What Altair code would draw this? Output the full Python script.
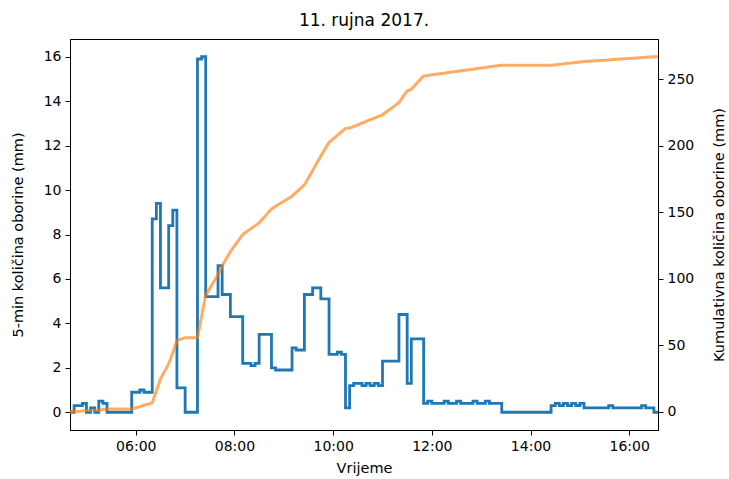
import altair as alt
import pandas as pd

title_text = "11. rujna 2017."
y_left_title = "5-min količina oborine (mm)"
y_right_title = "Kumulativna količina oborine (mm)"
x_title = "Vrijeme"

start_minute = 4 * 60 + 40   # 04:40
end_minute = 16 * 60 + 35    # 16:35
step_minutes = 5

# 5-min rainfall (mm); each value belongs to the 5-min interval ending at its timestamp
rain_5min = [
    0.0, 0.0,
    0.3, 0.3, 0.4, 0.0, 0.2, 0.0, 0.5, 0.4,
    0.0, 0.0, 0.0, 0.0, 0.0, 0.0,
    0.9, 0.9, 1.0, 0.9, 0.9,
    8.7, 9.4, 5.6, 5.6, 8.4, 9.1, 1.1, 1.1, 0.0, 0.0, 0.0,
    15.9, 16.0, 5.2, 5.2, 5.2, 6.6, 5.3, 5.3, 4.3, 4.3, 4.3,
    2.2, 2.2, 2.1, 2.2, 3.5, 3.5, 3.5, 2.0, 1.9, 1.9, 1.9, 1.9,
    2.9, 2.8, 2.8, 5.3, 5.3, 5.6, 5.6, 5.1, 5.1, 2.6, 2.6, 2.7, 2.6, 0.2,
    1.2, 1.3, 1.3, 1.2, 1.3, 1.2, 1.3, 1.2,
    2.3, 2.3, 2.3, 2.3, 4.4, 4.4, 1.3, 3.3, 3.3, 3.3,
    0.4, 0.5, 0.4, 0.4, 0.4, 0.5, 0.4, 0.4, 0.5, 0.4, 0.4, 0.4, 0.5, 0.4, 0.4, 0.5, 0.4, 0.4, 0.4,
    0.0, 0.0, 0.0, 0.0, 0.0, 0.0, 0.0, 0.0, 0.0, 0.0, 0.0, 0.0,
    0.3, 0.4, 0.3, 0.4, 0.3, 0.4, 0.3, 0.4,
    0.2, 0.2, 0.2, 0.2, 0.2, 0.2, 0.3, 0.2, 0.2, 0.2, 0.2, 0.2, 0.2, 0.2, 0.3, 0.2, 0.2, 0.0,
]

x_ticks = [360, 480, 600, 720, 840, 960]   # 06:00 ... 16:00
left_ticks = [0, 2, 4, 6, 8, 10, 12, 14, 16]
right_ticks = [0, 50, 100, 150, 200, 250]

df = pd.DataFrame({
    "minute": [start_minute + step_minutes * i for i in range(len(rain_5min))],
    "rain": rain_5min,
})

FONT = "DejaVu Sans"

x_enc = alt.X(
    "minute:Q",
    scale=alt.Scale(domain=[start_minute, end_minute], nice=False, zero=False),
    axis=alt.Axis(
        title=x_title,
        values=x_ticks,
        labelExpr="(datum.value < 600 ? '0' : '') + floor(datum.value / 60) + ':00'",
        labelFlush=False,
        titleY=38,
        titleBaseline="middle",
    ),
)

base = alt.Chart(df)

blue = base.mark_line(
    interpolate="step-before", color="#1f77b4", strokeWidth=2.8
).encode(
    x=x_enc,
    y=alt.Y(
        "rain:Q",
        scale=alt.Scale(domain=[-0.8, 16.8], nice=False, zero=False),
        axis=alt.Axis(
            title=y_left_title,
            values=left_ticks,
            orient="left",
            titleX=-52,
            titleBaseline="middle",
        ),
    ),
)

orange = base.transform_window(
    cum="sum(rain)", frame=[None, 0], sort=[alt.SortField("minute")]
).mark_line(color="#ff7f0e", strokeWidth=3, opacity=0.65).encode(
    x=x_enc,
    y=alt.Y(
        "cum:Q",
        scale=alt.Scale(domain=[-13.7, 280.3], nice=False, zero=False),
        axis=alt.Axis(
            title=y_right_title,
            values=right_ticks,
            orient="right",
            titleAngle=270,
            titleX=61,
            titleBaseline="middle",
        ),
    ),
)

chart = (
    alt.layer(blue, orange)
    .resolve_scale(y="independent")
    .properties(
        width=588,
        height=391,
        background="white",
        title=alt.TitleParams(
            text=title_text,
            fontSize=17,
            font=FONT,
            fontWeight="normal",
            anchor="middle",
            color="black",
            offset=9,
        ),
        autosize=alt.AutoSizeParams(type="none"),
        padding={"left": 70, "top": 39, "right": 71, "bottom": 49},
    )
    .configure_view(stroke="black", strokeWidth=1)
    .configure_axis(
        grid=False,
        domainColor="black",
        tickColor="black",
        tickSize=5,
        labelPadding=4,
        labelFont=FONT,
        labelFontSize=14,
        labelColor="black",
        titleFont=FONT,
        titleFontSize=14.5,
        titleFontWeight="normal",
        titleColor="black",
    )
)

chart.save("out.html", embed_options={"renderer": "svg", "actions": False})
